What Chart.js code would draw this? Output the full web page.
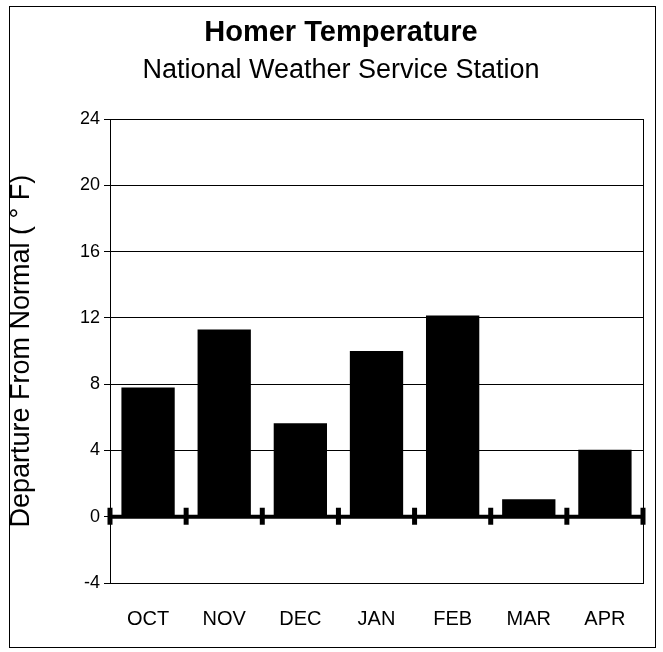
<!DOCTYPE html>
<html>
<head>
<meta charset="utf-8">
<script src="https://cdn.jsdelivr.net/npm/chart.js@4.4.1/dist/chart.umd.min.js"></script>
<style>
  html, body { margin: 0; padding: 0; background: #fff; }
  #wrap { position: absolute; left: 0; top: 0; width: 663px; height: 652px; }
</style>
</head>
<body>
<div id="wrap"><canvas id="homer" width="663" height="652"></canvas></div>
<script>
// data
const months = ['OCT', 'NOV', 'DEC', 'JAN', 'FEB', 'MAR', 'APR'];
const departure = [7.8, 11.3, 5.65, 10.0, 12.15, 1.05, 4.05];
const yMin = -4;
const yMax = 24;
const yStep = 4;
const titleText = 'Homer Temperature';
const subtitleText = 'National Weather Service Station';
const yAxisText = 'Departure From Normal ( \u00B0 F)';

const FONT = 'Arial, "Liberation Sans", Helvetica, sans-serif';

// outer frame, plot box and the heavy zero line with its cross ticks
const framePlugin = {
    id: 'frame',
    afterDatasetsDraw(chart) {
        const ctx = chart.ctx;
        const area = chart.chartArea;
        const x = chart.scales.x;
        const y = chart.scales.y;
        ctx.save();
        ctx.strokeStyle = '#000';
        ctx.lineWidth = 1;
        ctx.strokeRect(Math.round(area.left) + 0.5, Math.round(area.top) + 0.5,
            Math.round(area.right - area.left), Math.round(area.bottom - area.top));

        const y0 = y.getPixelForValue(0);
        ctx.lineWidth = 4;
        ctx.beginPath();
        ctx.moveTo(area.left, y0);
        ctx.lineTo(area.right, y0);
        ctx.stroke();

        ctx.lineWidth = 5;
        const half = (x.getPixelForValue(1) - x.getPixelForValue(0)) / 2;
        for (let i = 0; i <= months.length; i++) {
            const px = i < months.length ? x.getPixelForValue(i) - half : area.right;
            ctx.beginPath();
            ctx.moveTo(px, y0 - 9);
            ctx.lineTo(px, y0 + 8);
            ctx.stroke();
        }
        ctx.restore();
    },
    afterDraw(chart) {
        const ctx = chart.ctx;
        ctx.save();
        ctx.strokeStyle = '#000';
        ctx.lineWidth = 1;
        ctx.strokeRect(9.5, 6.5, 646, 641);
        ctx.restore();
    }
};

const ctx = document.getElementById('homer');
const homerChart = new Chart(ctx, {
    type: 'bar',
    data: {
        labels: months,
        datasets: [{
            label: 'Departure',
            data: departure,
            backgroundColor: '#000',
            borderWidth: 0,
            barPercentage: 0.7,
            categoryPercentage: 1.0
        }]
    },
    options: {
        responsive: false,
        devicePixelRatio: 1,
        animation: false,
        layout: { padding: { left: 19, right: 0, top: 0, bottom: 0 } },
        plugins: {
            legend: { display: false },
            tooltip: { enabled: false },
            title: {
                display: true,
                text: titleText,
                color: '#000',
                font: { family: FONT, size: 29, weight: 'bold', lineHeight: 1.2 },
                padding: { top: 16, bottom: 4 }
            },
            subtitle: {
                display: true,
                text: subtitleText,
                color: '#000',
                font: { family: FONT, size: 27, weight: 'normal', lineHeight: 1.2 },
                padding: { top: 0, bottom: 32 }
            }
        },
        scales: {
            x: {
                offset: true,
                grid: { display: false, drawTicks: false },
                border: { display: true, color: '#000', width: 1 },
                ticks: {
                    color: '#000',
                    padding: 24,
                    font: { family: FONT, size: 20 }
                },
                afterFit(scale) { scale.height = 69; }
            },
            y: {
                min: yMin,
                max: yMax,
                ticks: {
                    stepSize: yStep,
                    color: '#000',
                    padding: 4,
                    font: { family: FONT, size: 18 }
                },
                grid: {
                    color: '#000',
                    lineWidth: 1,
                    tickLength: 6,
                    drawOnChartArea: true
                },
                border: { display: true, color: '#000', width: 1 },
                title: {
                    display: true,
                    text: yAxisText,
                    color: '#000',
                    font: { family: FONT, size: 27, lineHeight: 1.2 },
                    padding: { top: -14, bottom: 0 }
                },
                afterFit(scale) { scale.width = 91; }
            },
            // empty right axis, only keeps a 20px margin right of the plot
            yRight: {
                position: 'right',
                display: true,
                min: yMin,
                max: yMax,
                grid: { display: false, drawTicks: false },
                border: { display: false },
                ticks: { display: false },
                afterFit(scale) { scale.width = 20; }
            }
        }
    },
    plugins: [framePlugin]
});
</script>
</body>
</html>
